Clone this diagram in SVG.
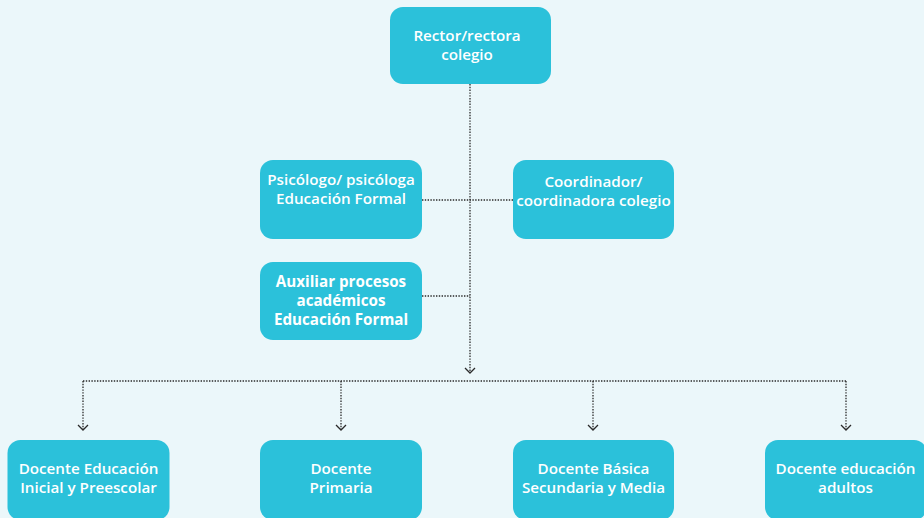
<svg xmlns="http://www.w3.org/2000/svg" width="924" height="518" viewBox="0 0 924 518">
<defs>
<style>
.n{fill:#2BC1DA;}
.t{fill:#FFFFFF;font-family:"Open Sans","Liberation Sans",sans-serif;font-weight:600;font-size:15.2px;text-anchor:middle;}
.tb{fill:#FFFFFF;font-family:"Open Sans","Liberation Sans",sans-serif;font-weight:700;font-size:15.2px;text-anchor:middle;}
.c{fill:none;stroke:#2a2a2a;stroke-width:1.3;stroke-dasharray:1.4 1.4;}
.a{fill:none;stroke:#2a2a2a;stroke-width:1.3;}
</style>
</defs>
<rect width="924" height="518" fill="#EBF7FA"/>
<g id="connectors">
<path class="c" d="M470 84 V372"/>
<path class="c" d="M422 200 H513"/>
<path class="c" d="M422 296 H470"/>
<path class="c" d="M83 381 H846"/>
<path class="c" d="M83 381 V430"/>
<path class="c" d="M341 381 V430"/>
<path class="c" d="M593 381 V430"/>
<path class="c" d="M846 381 V430"/>
<path class="a" d="M465 368 L470 373 L475 368"/>
<path class="a" d="M78 425 L83 430 L88 425"/>
<path class="a" d="M336 425 L341 430 L346 425"/>
<path class="a" d="M588 425 L593 430 L598 425"/>
<path class="a" d="M841 425 L846 430 L851 425"/>
</g>
<g id="rector">
<rect class="n" x="390" y="7" width="161" height="77" rx="13"/>
<text class="t" x="467" y="41">Rector/rectora</text>
<text class="t" x="467" y="60">colegio</text>
</g>
<g id="psicologo">
<rect class="n" x="260" y="160" width="162" height="79" rx="13"/>
<text class="t" x="341" y="185">Psicólogo/ psicóloga</text>
<text class="t" x="341" y="204">Educación Formal</text>
</g>
<g id="coordinador">
<rect class="n" x="513" y="160" width="161" height="79" rx="13"/>
<text class="t" x="593.5" y="186.5">Coordinador/</text>
<text class="t" x="593.5" y="205.5">coordinadora colegio</text>
</g>
<g id="auxiliar">
<rect class="n" x="260" y="262" width="162" height="78" rx="13"/>
<text class="tb" x="341" y="287">Auxiliar procesos</text>
<text class="tb" x="341" y="306">académicos</text>
<text class="tb" x="341" y="325">Educación Formal</text>
</g>
<g id="docente-inicial">
<rect class="n" x="7.5" y="440" width="162" height="80" rx="13"/>
<text class="t" x="88.5" y="474">Docente Educación</text>
<text class="t" x="88.5" y="493">Inicial y Preescolar</text>
</g>
<g id="docente-primaria">
<rect class="n" x="260" y="440" width="162" height="80" rx="13"/>
<text class="t" x="341" y="474">Docente</text>
<text class="t" x="341" y="493">Primaria</text>
</g>
<g id="docente-secundaria">
<rect class="n" x="513" y="440" width="161" height="80" rx="13"/>
<text class="t" x="593.5" y="474">Docente Básica</text>
<text class="t" x="593.5" y="493">Secundaria y Media</text>
</g>
<g id="docente-adultos">
<rect class="n" x="765" y="440" width="162" height="80" rx="13"/>
<text class="t" x="845.5" y="474">Docente educación</text>
<text class="t" x="845.5" y="493">adultos</text>
</g>
</svg>
